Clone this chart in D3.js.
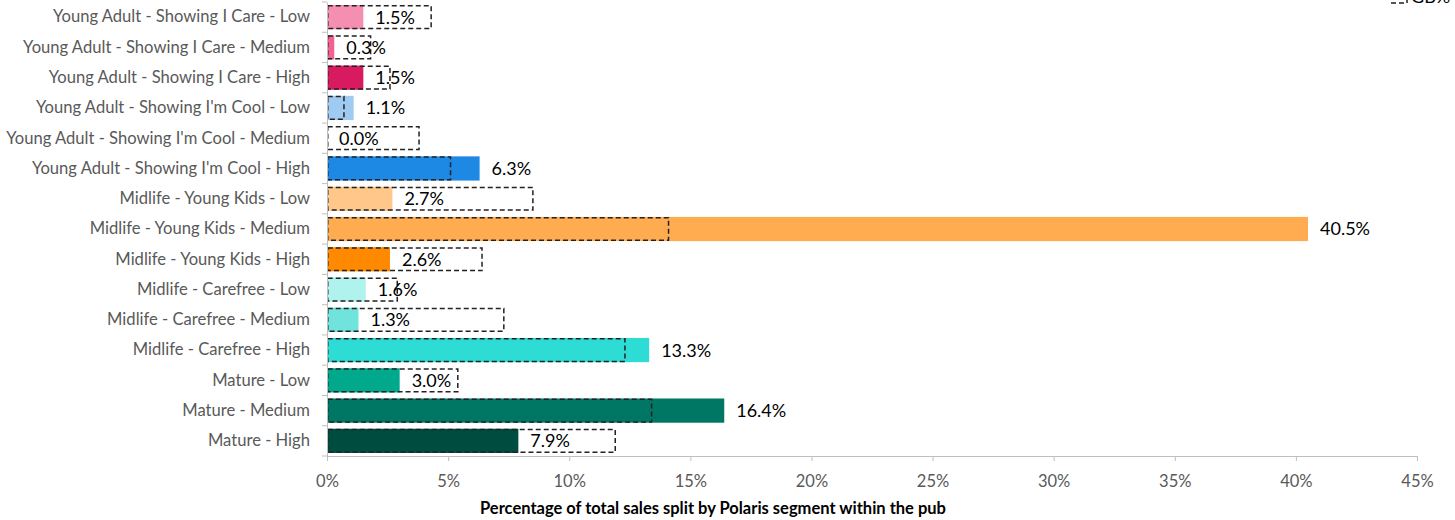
<!DOCTYPE html>
<html>
<head>
<meta charset="utf-8">
<script src="https://cdn.jsdelivr.net/npm/d3@7/dist/d3.min.js"></script>
<style>
  html, body { margin: 0; padding: 0; background: #fff; }
  svg { display: block; font-family: Lato, "Noto Sans", sans-serif; }
</style>
</head>
<body>
<svg id="chart" width="1455" height="520"></svg>
<script>
// Polaris segments, top to bottom
const categories = [
  "Young Adult - Showing I Care - Low",
  "Young Adult - Showing I Care - Medium",
  "Young Adult - Showing I Care - High",
  "Young Adult - Showing I'm Cool - Low",
  "Young Adult - Showing I'm Cool - Medium",
  "Young Adult - Showing I'm Cool - High",
  "Midlife - Young Kids - Low",
  "Midlife - Young Kids - Medium",
  "Midlife - Young Kids - High",
  "Midlife - Carefree - Low",
  "Midlife - Carefree - Medium",
  "Midlife - Carefree - High",
  "Mature - Low",
  "Mature - Medium",
  "Mature - High"
];

// Share of pub sales per segment (%)
const pubShare = [1.5, 0.3, 1.5, 1.1, 0.0, 6.3, 2.7, 40.5, 2.6, 1.6, 1.3, 13.3, 3.0, 16.4, 7.9];

// GB benchmark share per segment (%), drawn as dashed outlines
const gbShare = [4.3, 1.8, 2.6, 0.7, 3.8, 5.1, 8.5, 14.1, 6.4, 2.9, 7.3, 12.3, 5.4, 13.4, 11.9];

const segmentColors = [
  "#f48fb1", "#f06292", "#d81b60",
  "#9fcbf3", "#64b5f6", "#1e88e5",
  "#ffc88a", "#ffac50", "#ff8a00",
  "#b0f2ee", "#6fe3dc", "#2cdcd5",
  "#00a98b", "#007664", "#004c3f"
];

const xTicks = [0, 5, 10, 15, 20, 25, 30, 35, 40, 45];

const axisTitle = "Percentage of total sales split by Polaris segment within the pub";
const legendLabel = "GB%";

const svg = d3.select("#chart");
const margin = { left: 327, right: 38, top: 2, bottom: 64 };
const W = 1455, H = 520;

const x = d3.scaleLinear().domain([0, 45]).range([margin.left, W - margin.right]);
const y = d3.scaleBand().domain(categories)
  .range([margin.top, H - margin.bottom])
  .paddingInner(0.2).paddingOuter(0.1);

const rows = categories.map((c, i) => ({ cat: c, v: pubShare[i], gb: gbShare[i], color: segmentColors[i] }));

// bars
svg.append("g").selectAll("rect").data(rows).join("rect")
  .attr("x", x(0))
  .attr("y", d => y(d.cat))
  .attr("width", d => x(d.v) - x(0))
  .attr("height", y.bandwidth())
  .attr("fill", d => d.color);

// GB benchmark outlines
svg.append("g").selectAll("rect").data(rows).join("rect")
  .attr("x", x(0) + 0.75)
  .attr("y", d => y(d.cat) + 0.75)
  .attr("width", d => x(d.gb) - x(0) - 0.75)
  .attr("height", y.bandwidth() - 1.5)
  .attr("fill", "none")
  .attr("stroke", "#222")
  .attr("stroke-width", 1.5)
  .attr("stroke-dasharray", "5,3");

// value labels
svg.append("g").selectAll("text").data(rows).join("text")
  .attr("x", d => x(d.v) + 12)
  .attr("y", d => y(d.cat) + y.bandwidth() / 2)
  .attr("dy", "0.36em")
  .attr("font-size", 18)
  .attr("fill", "#000")
  .text(d => d.v.toFixed(1) + "%");

// y axis: category labels
const yAxis = svg.append("g")
  .attr("transform", `translate(${margin.left},0)`)
  .call(d3.axisLeft(y).tickSize(0).tickPadding(17));
yAxis.select(".domain").attr("stroke", "#bfbfbf");
yAxis.selectAll("text").attr("font-size", 16.6).attr("fill", "#595959")
  .attr("font-family", "Lato, 'Noto Sans', sans-serif");

// y axis boundary ticks between categories
const half = (y.step() - y.bandwidth()) / 2;
const bounds = categories.map(c => y(c) - half).concat([y(categories[categories.length - 1]) + y.bandwidth() + half]);
svg.append("g").selectAll("line").data(bounds).join("line")
  .attr("x1", margin.left - 5).attr("x2", margin.left)
  .attr("y1", d => d).attr("y2", d => d)
  .attr("stroke", "#bfbfbf");

// x axis
const xAxisY = H - margin.bottom;
const xAxis = svg.append("g")
  .attr("transform", `translate(0,${xAxisY})`)
  .call(d3.axisBottom(x).tickValues(xTicks).tickFormat(d => d + "%").tickSize(5).tickPadding(14));
xAxis.select(".domain").attr("stroke", "#bfbfbf");
xAxis.selectAll(".tick line").attr("stroke", "#bfbfbf");
xAxis.selectAll("text").attr("font-size", 16.5).attr("fill", "#595959")
  .attr("font-family", "Lato, 'Noto Sans', sans-serif");

// axis title
svg.append("text")
  .attr("x", 713).attr("y", 514)
  .attr("text-anchor", "middle")
  .attr("font-size", 16.5).attr("font-weight", "bold").attr("fill", "#000")
  .text(axisTitle);

// legend (partially above the top edge)
svg.append("rect")
  .attr("x", 1391).attr("y", -10).attr("width", 16).attr("height", 13)
  .attr("fill", "none").attr("stroke", "#222").attr("stroke-width", 1.5)
  .attr("stroke-dasharray", "5,3");
svg.append("text")
  .attr("x", 1411).attr("y", 3)
  .attr("font-size", 18).attr("fill", "#000")
  .text(legendLabel);
</script>
</body>
</html>
